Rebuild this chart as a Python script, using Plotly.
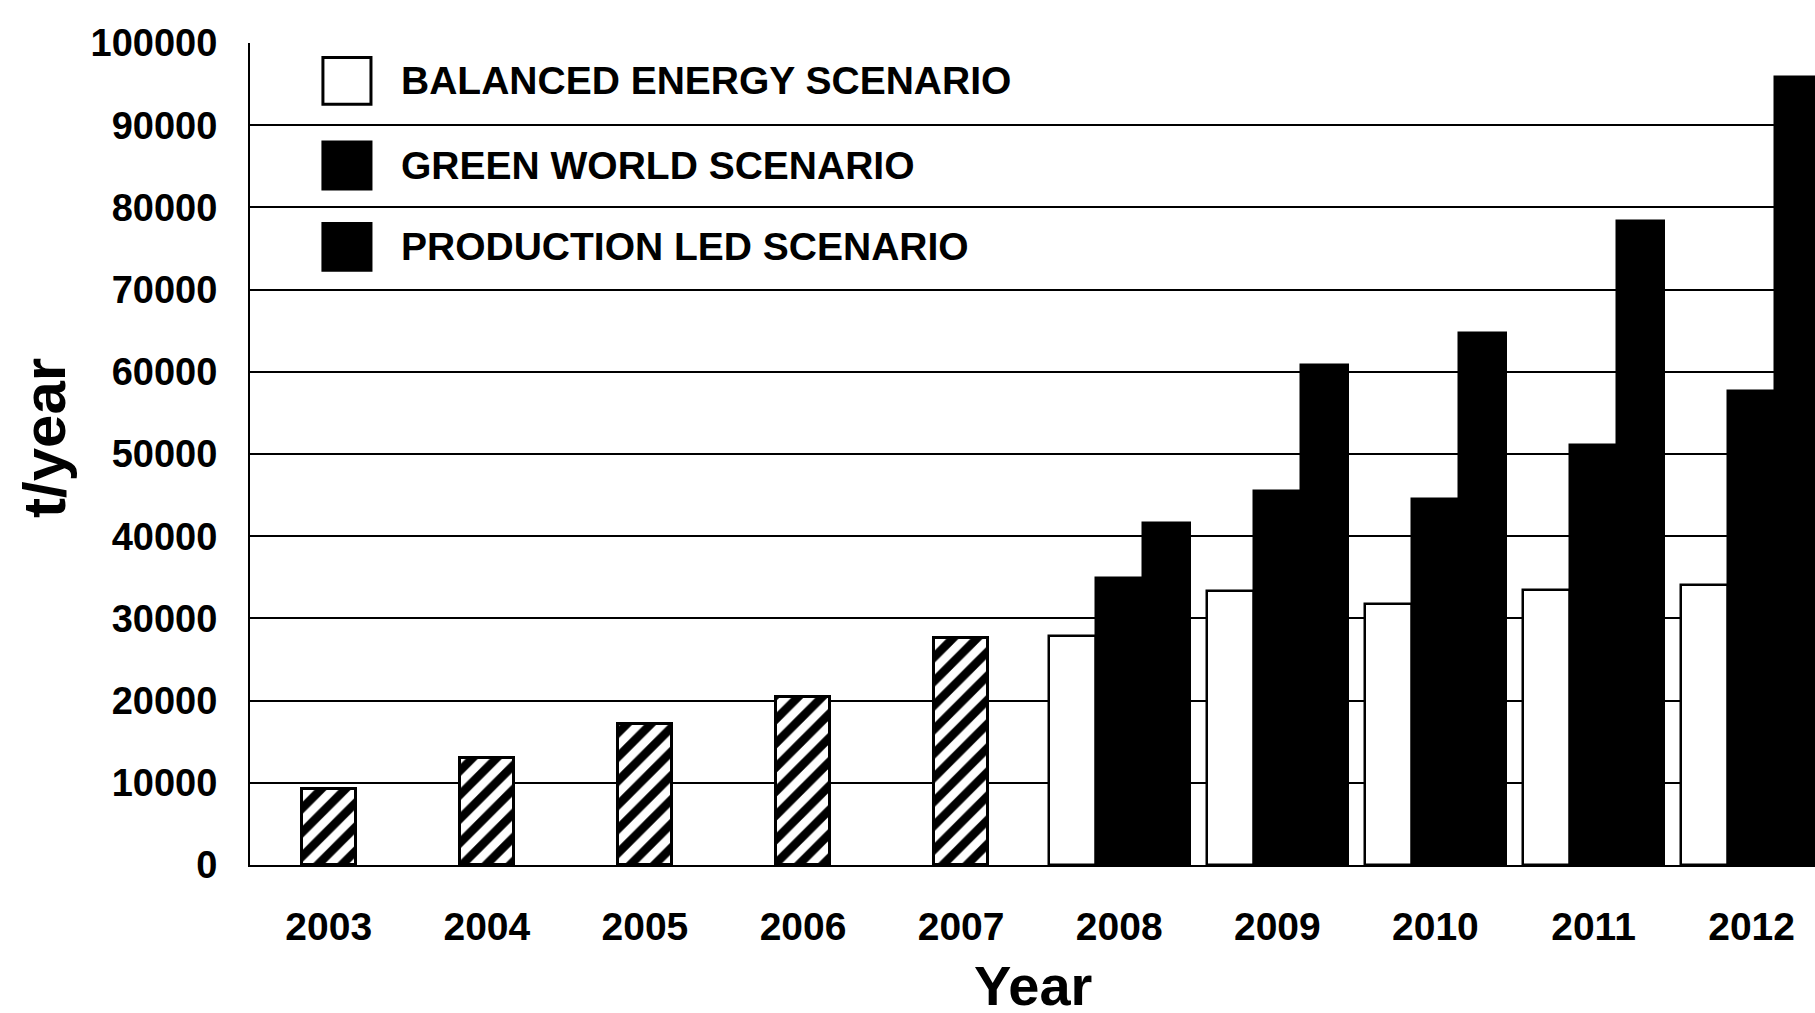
import plotly.graph_objects as go

# Annual output, t/year
hist_years = [2003, 2004, 2005, 2006, 2007]
hist_values = [9300, 13000, 17200, 20400, 27600]

scen_years = [2008, 2009, 2010, 2011, 2012]
balanced_energy = [27900, 33300, 31800, 33500, 34100]
green_world = [34900, 45500, 44500, 51100, 57700]
production_led = [41600, 60800, 64700, 78400, 95900]

all_years = hist_years + scen_years
y_ticks = list(range(0, 100001, 10000))

legend_labels = ["BALANCED ENERGY SCENARIO", "GREEN WORLD SCENARIO", "PRODUCTION LED SCENARIO"]
legend_fills = ["white", "black", "black"]
legend_rows = [95400, 85100, 75200]

FONT = "Liberation Sans, Arial, sans-serif"

fig = go.Figure()

# historical bars, hatched
fig.add_trace(go.Bar(
    x=hist_years, y=hist_values, width=0.34, offset=-0.17,
    marker=dict(color="white", line=dict(color="black", width=3),
                pattern=dict(shape="/", fgcolor="black", bgcolor="white",
                             fgopacity=1, size=17, solidity=0.5)),
    showlegend=False,
))

# scenario bars, three side by side per year
scen_series = [
    (balanced_energy, "white", -0.446),
    (green_world, "black", -0.149),
    (production_led, "black", 0.149),
]
for values, fill, off in scen_series:
    fig.add_trace(go.Bar(
        x=scen_years, y=values, width=0.298, offset=off,
        marker=dict(color=fill, line=dict(color="black", width=2.5)),
        showlegend=False,
    ))

# legend swatches and labels drawn inside the plot
shapes = []
annotations = []
for label, fill, yc in zip(legend_labels, legend_fills, legend_rows):
    shapes.append(dict(
        type="rect", xref="paper", yref="y",
        x0=0.0466, x1=0.0773, y0=yc - 2850, y1=yc + 2850,
        fillcolor=fill, line=dict(color="black", width=3), layer="above",
    ))
    annotations.append(dict(
        text=label, xref="paper", yref="y", x=0.0950, y=yc,
        xanchor="left", yanchor="middle", showarrow=False,
        font=dict(family=FONT, size=39, color="black", weight="bold"),
    ))

# axis titles
annotations.append(dict(
    text="t/year", xref="paper", yref="paper",
    x=(44 - 250) / 1565, y=(865 - 438) / 822,
    xanchor="center", yanchor="middle", textangle=-90, showarrow=False,
    font=dict(family=FONT, size=60, color="black", weight="bold"),
))
annotations.append(dict(
    text="Year", xref="paper", yref="paper",
    x=(1033 - 250) / 1565, y=(865 - 985) / 822,
    xanchor="center", yanchor="middle", showarrow=False,
    font=dict(family=FONT, size=56, color="black", weight="bold"),
))

fig.update_layout(
    width=1815, height=1013, autosize=False,
    margin=dict(l=250, r=0, t=43, b=148, pad=0),
    paper_bgcolor="white", plot_bgcolor="white",
    barmode="overlay", bargap=0,
    shapes=shapes, annotations=annotations,
    font=dict(family=FONT, color="black"),
)

fig.update_xaxes(
    range=[2002.502, 2012.401],
    tickmode="array", tickvals=all_years, ticktext=[str(y) for y in all_years],
    tickfont=dict(family=FONT, size=39, color="black", weight="bold"),
    ticks="", ticklabelstandoff=26,
    showgrid=False, zeroline=False,
    showline=True, linecolor="black", linewidth=2,
)

fig.update_yaxes(
    range=[0, 100000],
    tickmode="array", tickvals=y_ticks, tickformat="d",
    tickfont=dict(family=FONT, size=38, color="black", weight="bold"),
    ticks="", ticklabelstandoff=23,
    showgrid=True, gridcolor="black", gridwidth=1.8,
    zeroline=False,
    showline=True, linecolor="black", linewidth=2,
)

fig.write_html("out.html")
